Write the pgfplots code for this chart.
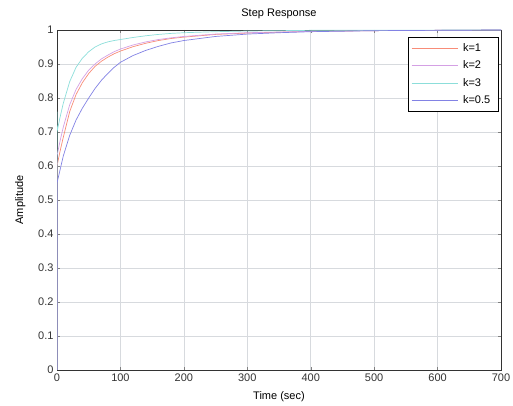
\documentclass[border=0pt]{standalone}
\usepackage{pgfplots}
\pgfplotsset{compat=1.18}
\usepackage{fontspec}
\setmainfont{Liberation Sans}
\definecolor{cred}{RGB}{248,140,120}
\definecolor{cpur}{RGB}{212,160,228}
\definecolor{ccya}{RGB}{140,222,218}
\definecolor{cblu}{RGB}{130,130,228}
\definecolor{gridc}{RGB}{215,218,222}
\begin{document}
\begin{tikzpicture}
\begin{axis}[
  scale only axis, width=444pt, height=340pt,
  xmin=0, xmax=700, ymin=0, ymax=1,
  xtick={0,100,...,700},
  ytick={0,0.1,...,1},
  yticklabel style={/pgf/number format/fixed,/pgf/number format/precision=1},
  /pgf/number format/assume math mode=true,
  tick label style={font=\fontsize{11}{13}\selectfont, text=black!80},
  grid=major, major grid style={gridc, line width=0.6pt},
  tick align=inside, major tick length=3pt,
  axis line style={black!80, line width=0.6pt},
  title={Step Response}, title style={font=\fontsize{11}{13}\selectfont, yshift=2pt},
  xlabel={Time (sec)}, ylabel={Amplitude},
  label style={font=\fontsize{11}{13}\selectfont},
  xlabel style={yshift=-3pt},
  ylabel style={yshift=6pt},
  legend style={at={(0.79,0.98)}, anchor=north west, line width=0.9pt,
     font=\fontsize{11}{13}\selectfont, row sep=4pt, inner xsep=3pt, inner ysep=4pt,
     nodes={inner xsep=5pt}},
  legend cell align=left,
  legend image code/.code={\draw[#1, line width=0.8pt] (0pt,0pt) -- (46pt,0pt);},
  every axis plot/.append style={line width=0.7pt},
]
\coordinate (bl) at (rel axis cs:0,0);
\coordinate (tr) at (rel axis cs:1,1);
\addplot[color=cred, draw=cred] coordinates {(0,0)(0,0.60)(5,0.645)(10,0.685)(20,0.76)(30,0.81)(40,0.845)(50,0.872)(60,0.893)(70,0.908)(80,0.92)(90,0.93)(100,0.938)(120,0.951)(140,0.961)(160,0.969)(180,0.975)(200,0.979)(250,0.987)(300,0.991)(400,0.996)(500,0.998)(600,0.999)(700,1.0)};
\addlegendentry{k=1}
\addplot[color=cpur, draw=cpur] coordinates {(0,0)(0,0.63)(5,0.675)(10,0.715)(20,0.78)(30,0.825)(40,0.857)(50,0.882)(60,0.9)(70,0.915)(80,0.926)(90,0.936)(100,0.944)(120,0.956)(140,0.965)(160,0.972)(180,0.977)(200,0.981)(250,0.988)(300,0.992)(400,0.996)(500,0.998)(600,0.999)(700,1.0)};
\addlegendentry{k=2}
\addplot[color=ccya, draw=ccya] coordinates {(0,0)(0,0.76)(0,0.70)(5,0.745)(10,0.785)(20,0.848)(30,0.89)(40,0.917)(50,0.936)(60,0.95)(70,0.959)(80,0.965)(90,0.969)(100,0.972)(120,0.978)(140,0.983)(160,0.987)(180,0.99)(200,0.992)(250,0.995)(300,0.997)(400,0.999)(700,1.0)};
\addlegendentry{k=3}
\addplot[color=cblu, draw=cblu] coordinates {(0,0)(0,0.55)(5,0.59)(10,0.63)(20,0.69)(30,0.735)(40,0.77)(50,0.80)(60,0.828)(70,0.852)(80,0.872)(90,0.89)(100,0.905)(120,0.925)(140,0.94)(160,0.952)(180,0.962)(200,0.969)(250,0.981)(300,0.988)(350,0.992)(400,0.995)(500,0.998)(600,0.999)(700,1.0)};
\addlegendentry{k=0.5}
\end{axis}
\pgfresetboundingbox
\path ([shift={(-57pt,-36pt)}]bl) rectangle ([shift={(12pt,30pt)}]tr);
\end{tikzpicture}
\end{document}
